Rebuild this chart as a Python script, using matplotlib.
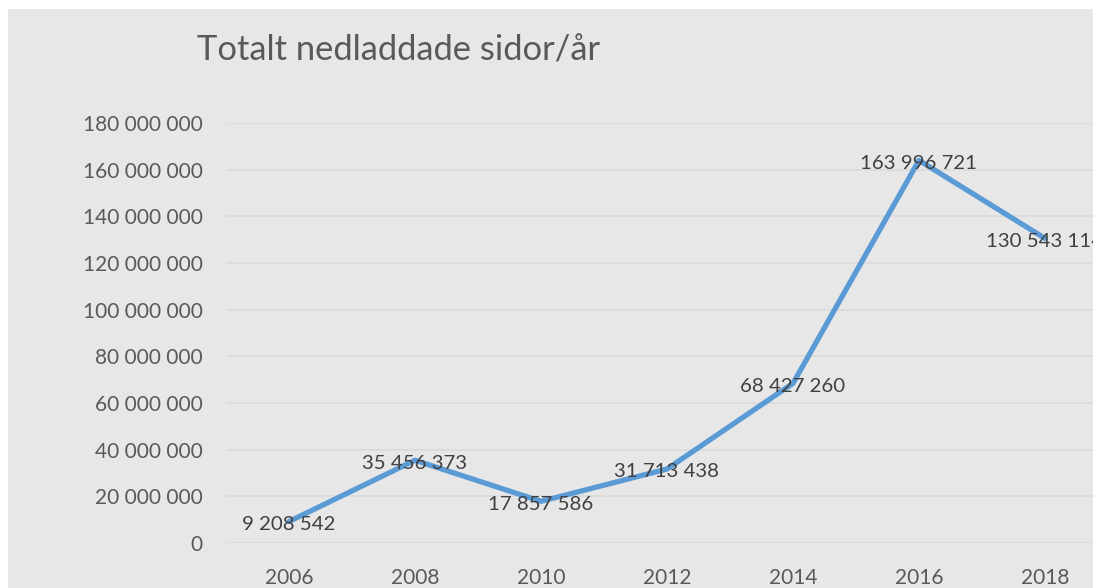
import matplotlib
matplotlib.use("Agg")
import matplotlib.pyplot as plt
from matplotlib.patches import Rectangle

years = ["2006", "2008", "2010", "2012", "2014", "2016", "2018"]
pages = [9208542, 35456373, 17857586, 31713438, 68427260, 163996721, 130543114]
yticks = [0, 20000000, 40000000, 60000000, 80000000, 100000000, 120000000,
          140000000, 160000000, 180000000]
title = "Totalt nedladdade sidor/år"

def fmt(v):
    return f"{v:,}".replace(",", " ")

FONT = "Lato"
W, H = 1093, 588
fig = plt.figure(figsize=(W / 100, H / 100), dpi=100, facecolor="white")
bg = "#e7e7e7"
fig.patches.append(Rectangle((8 / W, 0), 1, 1 - 9 / H, transform=fig.transFigure,
                             facecolor=bg, edgecolor="none", zorder=0))

left, right = 226 / W, 1108 / W
bottom, top = (H - 543) / H, (H - 123) / H
ax = fig.add_axes([left, bottom, right - left, top - bottom])
ax.set_facecolor("none")
ax.set_zorder(1)

x = list(range(len(years)))
ax.plot(x, pages, color="#5b9bd5", lw=3.8, solid_capstyle="round",
        solid_joinstyle="round", zorder=3, clip_on=False)
for xi, v in zip(x, pages):
    ax.annotate(fmt(v), (xi, v), xytext=(0, -2), textcoords="offset points",
                ha="center", va="center", fontsize=14.7,
                color="#404040", family=FONT, zorder=4, annotation_clip=False)

ax.set_xlim(-0.5, len(years) - 0.5)
ax.set_ylim(0, 180000000)
ax.set_yticks(yticks)
ax.set_yticklabels([fmt(t) for t in yticks], family=FONT, fontsize=15,
                   color="#595959")
ax.set_xticks(x)
ax.set_xticklabels(years, family=FONT, fontsize=15, color="#595959")
ax.tick_params(length=0, axis="y", pad=17)
ax.tick_params(length=0, axis="x", pad=18)
ax.grid(axis="y", color="#d9d9d9", lw=1.1)
ax.set_axisbelow(True)
for s in ax.spines.values():
    s.set_visible(False)

fig.text(197 / W, 1 - 51 / H, title, family=FONT, fontsize=24.8,
         color="#595959", va="center", ha="left")

fig.savefig("out.png", dpi=100, facecolor="white")
